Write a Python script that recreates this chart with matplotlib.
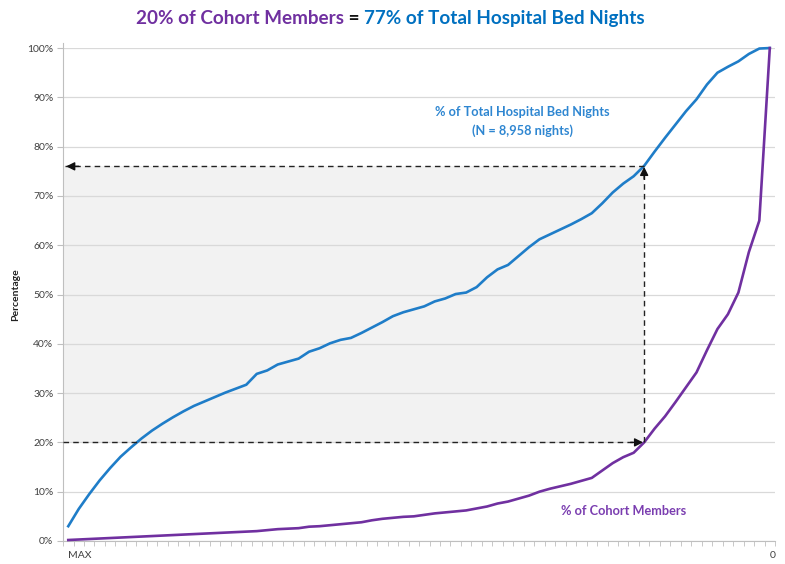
import numpy as np
import matplotlib
matplotlib.use("Agg")
import matplotlib.pyplot as plt
from matplotlib.ticker import PercentFormatter

plt.rcParams['font.family'] = ['Lato', 'DejaVu Sans']

# Cumulative shares (%), ordered from the highest user (MAX) down to 0 nights
bed_nights = [3.0, 6.5, 9.5, 12.3, 14.8, 17.1, 19.0, 20.8, 22.4, 23.8,
              25.1, 26.3, 27.4, 28.3, 29.2, 30.1, 30.9, 31.7, 33.9, 34.6,
              35.8, 36.4, 37.0, 38.4, 39.1, 40.1, 40.8, 41.2, 42.2, 43.3,
              44.4, 45.6, 46.4, 47.0, 47.6, 48.6, 49.2, 50.1, 50.4, 51.5,
              53.5, 55.1, 56.0, 57.8, 59.6, 61.2, 62.2, 63.2, 64.2, 65.3,
              66.5, 68.5, 70.7, 72.5, 74.0, 76.1, 79.0, 81.8, 84.5, 87.2,
              89.6, 92.6, 95.0, 96.2, 97.3, 98.8, 99.9, 100.0]
members = [0.2, 0.3, 0.4, 0.5, 0.6, 0.7, 0.8, 0.9, 1.0, 1.1,
           1.2, 1.3, 1.4, 1.5, 1.6, 1.7, 1.8, 1.9, 2.0, 2.2,
           2.4, 2.5, 2.6, 2.9, 3.0, 3.2, 3.4, 3.6, 3.8, 4.2,
           4.5, 4.7, 4.9, 5.0, 5.3, 5.6, 5.8, 6.0, 6.2, 6.6,
           7.0, 7.6, 8.0, 8.6, 9.2, 10.0, 10.6, 11.1, 11.6, 12.2,
           12.8, 14.3, 15.8, 17.0, 17.9, 20.0, 22.8, 25.3, 28.2, 31.2,
           34.2, 38.7, 43.0, 46.0, 50.4, 58.6, 65.0, 100.0]
tick_labels = ["MAX", "0"]

# marker point: 20% of members = 77% of bed nights
mark_idx = 55
mark_low = 20
mark_high = 76

BLUE = "#1F7DC8"
PURPLE = "#7030A0"

n = len(bed_nights)
x = np.arange(n)

fig = plt.figure(figsize=(7.85, 5.64), dpi=100)
ax = fig.add_axes([0.0803, 0.0408, 0.907, 0.874])

ax.set_xlim(-0.5, n - 0.5)
ax.set_ylim(0, 100)

# shaded box
ax.fill_between([-0.5, mark_idx], mark_low, mark_high, color="#f2f2f2", zorder=0.2, lw=0)

ax.plot(x, bed_nights, color=BLUE, lw=1.9, zorder=3, clip_on=False, solid_joinstyle='round')
ax.plot(x, members, color=PURPLE, lw=1.9, zorder=3, clip_on=False, solid_joinstyle='round')

# dashed guide arrows
dash = dict(color="#222222", lw=1.0, ls=(0, (4, 3)), zorder=4)
ax.plot([-0.3, mark_idx], [mark_high, mark_high], **dash)
ax.plot([-0.5, mark_idx - 0.4], [mark_low, mark_low], **dash)
ax.plot([mark_idx, mark_idx], [mark_low, mark_high - 1.2], **dash)
head = dict(arrowstyle="-|>,head_length=0.5,head_width=0.25", color="#111111", lw=1.0, shrinkA=0, shrinkB=0)
ax.annotate("", xy=(-0.2, mark_high), xytext=(1.0, mark_high), arrowprops=head, zorder=5)
ax.annotate("", xy=(mark_idx - 0.1, mark_low), xytext=(mark_idx - 1.3, mark_low), arrowprops=head, zorder=5)
ax.annotate("", xy=(mark_idx, mark_high - 0.1), xytext=(mark_idx, mark_high - 2.6), arrowprops=head, zorder=5)

# axes styling
ax.set_yticks(np.arange(0, 101, 10))
ax.yaxis.set_major_formatter(PercentFormatter(decimals=0))
ax.grid(axis="y", color="#d9d9d9", lw=0.9)
ax.set_axisbelow(True)
for s in ["top", "right"]:
    ax.spines[s].set_visible(False)
ax.spines["left"].set_color("#bfbfbf")
ax.spines["bottom"].set_color("#bfbfbf")
ax.spines["left"].set_bounds(0, 101)

ax.set_xticks([0, n - 1])
ax.set_xticklabels(tick_labels, ha="left")
ax.set_xticks(np.arange(-0.5, n, 1.0), minor=True)
ax.tick_params(axis="x", which="major", length=0, pad=7, labelsize=7.5, labelcolor="#404040")
ax.tick_params(axis="x", which="minor", length=3.5, color="#bfbfbf", direction="out")
ax.tick_params(axis="y", length=4, color="#bfbfbf", labelsize=7.5, labelcolor="#404040", pad=3)

ax.set_ylabel("Percentage", fontsize=7.5, fontweight="bold", labelpad=5, color="#222222")

# series labels
ax.text(43.4, 87.0, "% of Total Hospital Bed Nights", color="#2E86D1",
        fontsize=9.2, fontweight="bold", ha="center", va="center")
ax.text(43.4, 83.2, "(N = 8,958 nights)", color="#2E86D1",
        fontsize=9.2, fontweight="bold", ha="center", va="center")
ax.text(53.0, 6.1, "% of Cohort Members", color="#7A3DB0",
        fontsize=9.2, fontweight="bold", ha="center", va="center")

# multi-coloured title
parts = [("20% of Cohort Members", PURPLE), (" = ", "#111111"),
         ("77% of Total Hospital Bed Nights", "#0070C0")]
texts = [fig.text(0, 0.968, p, color=c, fontsize=13.6, fontweight="bold", va="center")
         for p, c in parts]
fig.canvas.draw()
r = fig.canvas.get_renderer()
widths = [t.get_window_extent(r).width for t in texts]
start = 390 - sum(widths) / 2
for t, w in zip(texts, widths):
    t.set_x(start / fig.bbox.width)
    start += w

fig.savefig("out.png", dpi=100)
